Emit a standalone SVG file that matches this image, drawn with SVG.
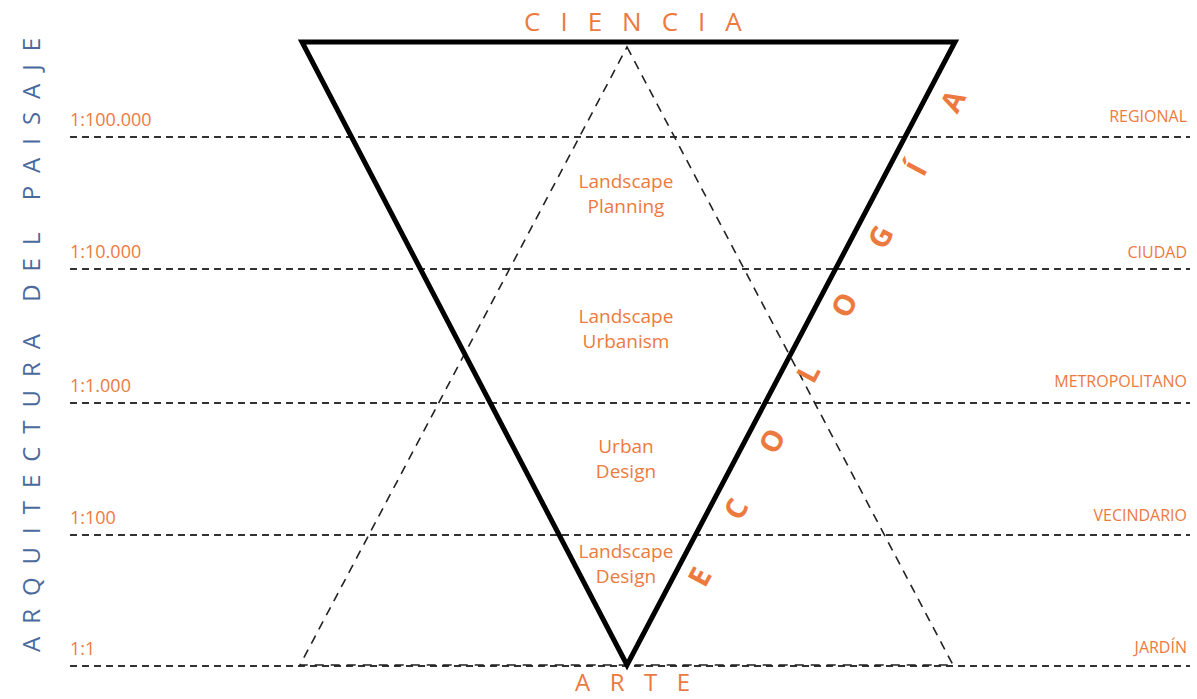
<svg xmlns="http://www.w3.org/2000/svg" width="1197" height="699" viewBox="0 0 1197 699">
<style>
.or{fill:#EC7A3E;font-family:"Open Sans","Liberation Sans",sans-serif}
.scale{font-size:18px}
.lvl{font-size:16px;text-anchor:end}
.inner{font-size:19px;text-anchor:middle}
.hl{stroke:#333;stroke-width:2;stroke-dasharray:7 5;fill:none}
.dt{stroke:#222;stroke-width:1.6;stroke-dasharray:9 7;fill:none}
.st{stroke:#000;stroke-width:5;fill:none;stroke-linejoin:miter}
</style>
<rect width="1197" height="699" fill="#fff"/>
<g id="connectors">
<line class="hl" x1="70" y1="137" x2="1190" y2="137"/>
<line class="hl" x1="70" y1="269" x2="1190" y2="269"/>
<line class="hl" x1="70" y1="403" x2="1190" y2="403"/>
<line class="hl" x1="70" y1="535" x2="1190" y2="535"/>
<line class="hl" x1="70" y1="666" x2="1190" y2="666"/>
<polygon id="dashed-triangle" class="dt" points="627,47 953,665 300,665"/>
<polygon id="solid-triangle" class="st" points="302,42 955,42 627,665"/>
</g>
<g id="title-ciencia"><text class="or" x="524" y="31" font-size="26" letter-spacing="20">CIENCIA</text></g>
<g id="title-arte"><text class="or" x="575" y="691" font-size="24" letter-spacing="19.5">ARTE</text></g>
<g id="axis-title"><text transform="translate(40,652) rotate(-90)" x="0" y="0" font-family="'Open Sans','Liberation Sans',sans-serif" font-size="24" fill="#4B6A9B" textLength="614" lengthAdjust="spacing">ARQUITECTURA DEL PAISAJE</text></g>
<g id="ecologia"><text class="or" transform="translate(700,577) rotate(-62)" font-size="29" font-weight="bold" text-anchor="middle" y="10"><tspan x="0">E</tspan><tspan x="77">C</tspan><tspan x="154">O</tspan><tspan x="231">L</tspan><tspan x="308">O</tspan><tspan x="385">G</tspan><tspan x="462">Í</tspan><tspan x="539">A</tspan></text></g>
<g id="scales">
<text class="or scale" x="70" y="126">1:100.000</text>
<text class="or scale" x="70" y="258">1:10.000</text>
<text class="or scale" x="70" y="392">1:1.000</text>
<text class="or scale" x="70" y="524">1:100</text>
<text class="or scale" x="70" y="655">1:1</text>
</g>
<g id="levels">
<text class="or lvl" x="1187" y="122">REGIONAL</text>
<text class="or lvl" x="1187" y="258">CIUDAD</text>
<text class="or lvl" x="1187" y="387">METROPOLITANO</text>
<text class="or lvl" x="1187" y="521">VECINDARIO</text>
<text class="or lvl" x="1187" y="653">JARDÍN</text>
</g>
<g id="node-planning"><text class="or inner" x="626" y="188">Landscape</text><text class="or inner" x="626" y="213">Planning</text></g>
<g id="node-urbanism"><text class="or inner" x="626" y="323">Landscape</text><text class="or inner" x="626" y="348">Urbanism</text></g>
<g id="node-urban-design"><text class="or inner" x="626" y="453">Urban</text><text class="or inner" x="626" y="478">Design</text></g>
<g id="node-landscape-design"><text class="or inner" x="626" y="558">Landscape</text><text class="or inner" x="626" y="583">Design</text></g>
</svg>
